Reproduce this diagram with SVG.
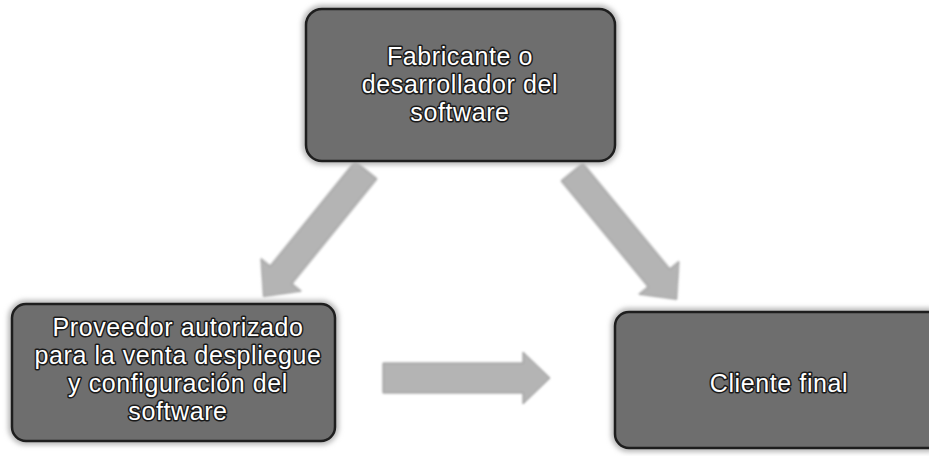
<svg xmlns="http://www.w3.org/2000/svg" width="929" height="456" viewBox="0 0 929 456">
  <defs>
    <filter id="soft" x="-10%" y="-10%" width="120%" height="120%">
      <feGaussianBlur stdDeviation="1.2"/>
    </filter>
    <filter id="halo" x="-10%" y="-20%" width="120%" height="140%">
      <feGaussianBlur stdDeviation="2.5"/>
    </filter>
  </defs>
  <style>
    .halo { fill: none; stroke: #b8b8b8; stroke-width: 8; filter: url(#halo); }
    .box { fill: #6e6e6e; stroke: #1e1e1e; stroke-width: 2.5; }
    .lbl { font-family: "Liberation Sans", Arial, sans-serif; font-size: 25px; letter-spacing: 0.6px; fill: #ffffff; stroke: #1a1a1a; stroke-width: 3; paint-order: stroke; stroke-linejoin: round; text-anchor: middle; }
    .arr { fill: #b4b4b4; stroke: #8e8e8e; stroke-width: 1; filter: url(#soft); }
  </style>
  <rect width="929" height="456" fill="#ffffff"/>

  <g id="connectors">
    <polygon class="arr" transform="translate(366,170) rotate(129)" points="0,-14 135,-14 135,-26 163,0 135,26 135,14 0,14"/>
    <polygon class="arr" transform="translate(572,172) rotate(50.6)" points="0,-14 137,-14 137,-26 165,0 137,26 137,14 0,14"/>
    <polygon class="arr" transform="translate(383,378)" points="0,-15 140,-15 140,-26 167,0 140,26 140,15 0,15"/>
  </g>

  <g id="node-fabricante">
    <rect class="halo" x="306" y="9" width="309" height="152" rx="16"/>
    <rect class="box" x="306" y="9" width="309" height="152" rx="16"/>
    <text class="lbl" x="460" y="65">Fabricante o</text>
    <text class="lbl" x="460" y="93">desarrollador del</text>
    <text class="lbl" x="460" y="121">software</text>
  </g>

  <g id="node-proveedor">
    <rect class="halo" x="12" y="304" width="323" height="137" rx="14"/>
    <rect class="box" x="12" y="304" width="323" height="137" rx="14"/>
    <text class="lbl" x="178" y="336">Proveedor autorizado</text>
    <text class="lbl" x="178" y="364">para la venta despliegue</text>
    <text class="lbl" x="178" y="392">y configuración del</text>
    <text class="lbl" x="178" y="420">software</text>
  </g>

  <g id="node-cliente">
    <rect class="halo" x="615" y="312" width="328" height="136" rx="14"/>
    <rect class="box" x="615" y="312" width="328" height="136" rx="14"/>
    <text class="lbl" x="779" y="392">Cliente final</text>
  </g>
</svg>
